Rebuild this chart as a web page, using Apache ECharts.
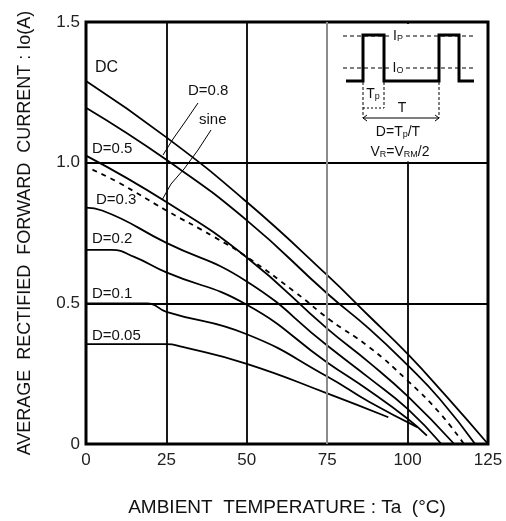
<!DOCTYPE html>
<html>
<head>
<meta charset="utf-8">
<script src="https://cdn.jsdelivr.net/npm/echarts@6/dist/echarts.min.js"></script>
<style>
html, body { margin: 0; padding: 0; background: #fff; }
#main { width: 506px; height: 521px; }
</style>
</head>
<body>
<div id="main"></div>
<script>
// ambient temperature (°C) and current (A)
var dcT = [0, 25, 50, 75, 88, 100, 112, 125];
var dcI = [1.29, 1.09, 0.86, 0.60, 0.455, 0.32, 0.17, 0];
var d08T = [0, 25, 50, 75, 88, 100, 110, 121];
var d08I = [1.195, 1.01, 0.795, 0.535, 0.41, 0.28, 0.16, 0];
var sineT = [2, 10, 25, 40, 50, 65, 76, 88, 100, 110, 117.5];
var sineI = [0.975, 0.93, 0.83, 0.735, 0.665, 0.54, 0.44, 0.345, 0.225, 0.11, 0];
var d05T = [0, 25, 50, 75, 88, 100, 114.5];
var d05I = [1.025, 0.86, 0.663, 0.41, 0.29, 0.17, 0];
var d03T = [0, 5, 25, 50, 75, 88, 100, 110.5];
var d03I = [0.84, 0.83, 0.715, 0.578, 0.35, 0.235, 0.125, 0];
var d02T = [0, 8, 15, 25, 50, 75, 88, 100, 106];
var d02I = [0.69, 0.69, 0.665, 0.61, 0.495, 0.29, 0.19, 0.09, 0.03];
var d01T = [0, 19, 25, 50, 75, 88, 103];
var d01I = [0.5, 0.5, 0.47, 0.39, 0.24, 0.15, 0.06];
var d005T = [0, 25, 30, 50, 75, 94];
var d005I = [0.355, 0.355, 0.345, 0.285, 0.18, 0.095];

var xTicks = [0, 25, 50, 75, 100, 125];
var yTickLabels = ['0', '0.5', '1.0', '1.5'];

function pairs(t, v) {
    return t.map(function (x, i) { return [x, v[i]]; });
}

function curve(name, t, v, dashed) {
    return {
        name: name,
        type: 'line',
        data: pairs(t, v),
        showSymbol: false,
        symbol: 'none',
        smooth: 0.5,
        silent: true,
        lineStyle: {
            color: '#000',
            width: 1.8,
            type: dashed ? [5, 5] : 'solid'
        }
    };
}

var font = 'Liberation Sans, Arial, sans-serif';
var myChart = echarts.init(document.getElementById('main'));

var series = [
    curve('DC', dcT, dcI),
    curve('D=0.8', d08T, d08I),
    curve('sine', sineT, sineI, true),
    curve('D=0.5', d05T, d05I),
    curve('D=0.3', d03T, d03I),
    curve('D=0.2', d02T, d02I),
    curve('D=0.1', d01T, d01I),
    curve('D=0.05', d005T, d005I)
];
// grey grid line at 75 °C
series[0].markLine = {
    silent: true,
    symbol: 'none',
    label: { show: false },
    lineStyle: { color: '#9a9a9a', type: 'solid', width: 1.8 },
    data: [{ xAxis: xTicks[3] }]
};

function txt(text, x, y, size, align) {
    return {
        type: 'text', z: 20,
        style: {
            text: text, x: x, y: y,
            font: size + 'px ' + font,
            fill: '#111',
            align: align || 'left',
            verticalAlign: 'middle'
        }
    };
}
function seg(points, width, dash) {
    return {
        type: 'polyline', z: 20,
        shape: { points: points },
        style: { stroke: '#000', fill: null, lineWidth: width, lineDash: dash || null }
    };
}
var sub = { s: { fontSize: 9, verticalAlign: 'bottom', padding: [6, 0, 0, 0], fontFamily: font, fill: '#111' } };
function richTxt(text, x, y) {
    return {
        type: 'text', z: 22,
        style: {
            text: text, x: x, y: y,
            font: '14px ' + font, fill: '#111',
            align: 'center', verticalAlign: 'middle',
            rich: sub
        }
    };
}

var option = {
    animation: false,
    backgroundColor: '#fff',
    grid: {
        left: 86, right: 18, top: 22, bottom: 77,
        containLabel: false,
        outerBoundsMode: 'none',
        show: true,
        borderColor: '#000',
        borderWidth: 3
    },
    xAxis: {
        type: 'value',
        min: 0, max: 125, interval: 25,
        name: 'AMBIENT  TEMPERATURE : Ta  (°C)',
        nameLocation: 'middle',
        nameGap: 54,
        nameTextStyle: { fontSize: 19, color: '#111', fontFamily: font },
        axisLine: { show: false },
        axisTick: { show: false },
        axisLabel: { fontSize: 17, color: '#222', margin: 8, fontFamily: font },
        splitLine: { show: true, lineStyle: { color: '#000', width: 1.8 } }
    },
    yAxis: {
        type: 'value',
        min: 0, max: 1.5, interval: 0.5,
        name: 'AVERAGE  RECTIFIED  FORWARD  CURRENT : Io(A)',
        nameLocation: 'middle',
        nameGap: 52,
        nameTextStyle: { fontSize: 18, color: '#111', fontFamily: font },
        axisLine: { show: false },
        axisTick: { show: false },
        axisLabel: {
            fontSize: 17, color: '#222', margin: 6, fontFamily: font,
            formatter: function (v) { return yTickLabels[Math.round(v / 0.5)]; }
        },
        splitLine: { show: true, lineStyle: { color: '#000', width: 1.8 } }
    },
    series: series,
    graphic: [
        // inset box background
        { type: 'rect', z: 10, shape: { x: 332, y: 24, width: 154, height: 137.5 }, style: { fill: '#fff' } },
        // Ip and Io dashed levels
        seg([[343, 36], [475, 36]], 1.2, [4, 3]),
        seg([[343, 68], [475, 68]], 1.2, [4, 3]),
        // pulse waveform
        seg([[346, 81], [363, 81], [363, 35], [384, 35], [384, 81], [439, 81], [439, 35], [459, 35], [459, 81], [474, 81]], 3),
        // Tp and T markers
        seg([[363, 82], [363, 118]], 1, [3, 2]),
        seg([[384, 82], [384, 108]], 1, [3, 2]),
        seg([[439, 82], [439, 118]], 1, [3, 2]),
        seg([[363, 108], [384, 108]], 1, [2, 2]),
        seg([[363, 118], [439, 118]], 1.2),
        seg([[367, 115], [363, 118], [367, 121]], 1),
        seg([[435, 115], [439, 118], [435, 121]], 1),
        { type: 'rect', z: 21, shape: { x: 391, y: 28, width: 14, height: 16 }, style: { fill: '#fff' } },
        { type: 'rect', z: 21, shape: { x: 391, y: 60, width: 14, height: 16 }, style: { fill: '#fff' } },
        richTxt('I{s|P}', 398, 36),
        richTxt('I{s|O}', 398, 68),
        richTxt('T{s|p}', 373, 94),
        richTxt('T', 402, 108),
        richTxt('D=T{s|p}/T', 398, 132),
        richTxt('V{s|R}=V{s|RM}/2', 400, 152),
        // curve labels
        txt('DC', 95, 68, 16),
        txt('D=0.8', 188, 91, 15),
        txt('sine', 199, 120, 15),
        txt('D=0.5', 92, 149, 15),
        txt('D=0.3', 96, 200, 15),
        txt('D=0.2', 92, 239, 15),
        txt('D=0.1', 92, 294, 15),
        txt('D=0.05', 92, 336, 15),
        // leader lines
        seg([[198, 103], [185, 122], [173, 139], [163, 155]], 1),
        seg([[211, 130], [198, 150], [184, 169], [171, 184], [162, 200]], 1)
    ]
};

myChart.setOption(option);
</script>
</body>
</html>
